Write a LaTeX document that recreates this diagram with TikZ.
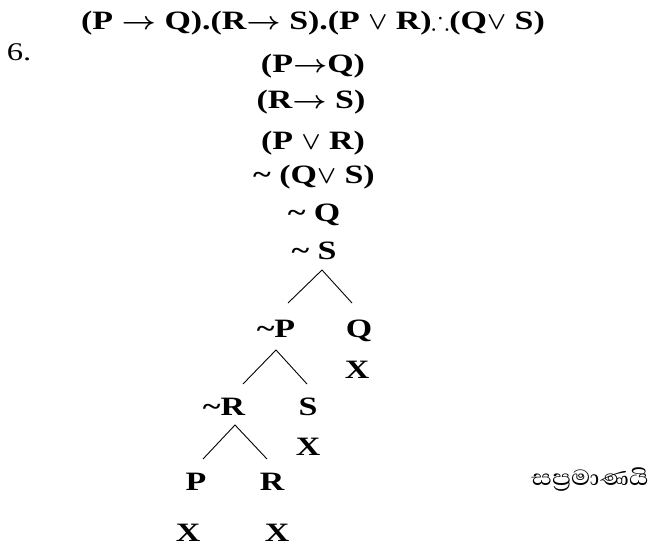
\documentclass[tikz,border=0pt]{standalone}
\usepackage{amssymb}
\usepackage{fontspec}
\setmainfont{Liberation Serif}[FakeStretch=1.28]
\newfontfamily\sinhalafont[Script=Sinhala,FakeStretch=1.15]{Abhaya Libre}
\usetikzlibrary{calc}
\newcommand\imp{\scalebox{1.2}[1]{$\rightarrow$}}

\begin{document}
\begin{tikzpicture}[x=1pt,y=-1pt,
  wff/.style={anchor=base,inner sep=0pt,font=\fontsize{26.5}{30}\selectfont\bfseries\boldmath},
  shut/.style={wff},
  branch/.style={line width=0.9pt,black}
]
  \useasboundingbox (0,0) rectangle (654,546);

  % argument and premises
  \node[wff] (arg) at (313,30) {(P \imp\ Q).(R\imp\ S).(P $\vee$ R)$\therefore$(Q$\vee$ S)};
  \node[anchor=base,inner sep=0pt,font=\fontsize{25.5}{30}\selectfont] (num) at (19,60) {6.};
  \node[wff] (l1) at (313,72) {(P\imp Q)};
  \node[wff] (l2) at (311,108) {(R\imp\ S)};
  \node[wff] (l3) at (313,149) {(P $\vee$ R)};
  \node[wff] (l4) at (314,183) {\textasciitilde\ (Q$\vee$ S)};
  \node[wff] (l5) at (314,221) {\textasciitilde\ Q};
  \node[wff] (l6) at (314,259) {\textasciitilde\ S};

  % tree
  \node[wff] (np) at (276,337) {\textasciitilde P};
  \node[wff] (q) at (359,337) {Q};
  \node[shut] (xq) at (357,378) {X};
  \node[wff] (nr) at (224,415) {\textasciitilde R};
  \node[wff] (s) at (308,415) {S};
  \node[shut] (xs) at (308,455) {X};
  \node[wff] (p) at (196,490) {P};
  \node[wff] (r) at (272,490) {R};
  \node[shut] (xp) at (188,541) {X};
  \node[shut] (xr) at (277,541) {X};

  \draw[branch] ($(np.base)+(12,-34)$) -- ($(l6.base)+(8,11)$) -- ($(q.base)+(-7,-34)$);
  \draw[branch] ($(nr.base)+(19,-31)$) -- ($(np.base)+(0,13)$) -- ($(s.base)+(-1,-31)$);
  \draw[branch] ($(p.base)+(7,-31)$) -- ($(nr.base)+(11,10)$) -- ($(r.base)+(-5,-31)$);

  \node[anchor=base,inner sep=0pt,font=\sinhalafont\fontsize{28}{32}\selectfont] (verdict) at (590,485) {සප්‍රමාණයි};
\end{tikzpicture}
\end{document}
